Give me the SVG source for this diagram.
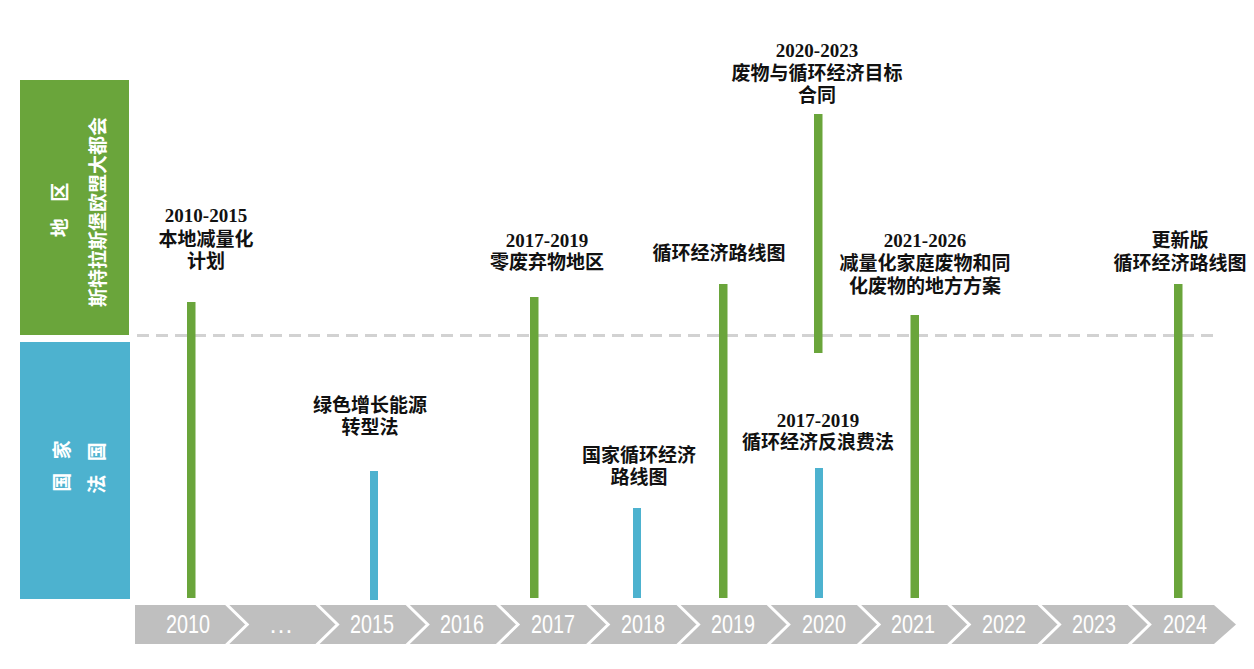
<svg xmlns="http://www.w3.org/2000/svg" width="1254" height="669" viewBox="0 0 1254 669">
<style>
.lbl{font-family:"Liberation Serif","Noto Sans CJK SC",serif;font-size:19px;font-weight:bold;text-anchor:middle;fill:#111}
.vt{font-family:"Noto Sans CJK SC","Liberation Sans",sans-serif;font-size:19px;font-weight:bold;text-anchor:middle;fill:#fff}
.yr{font-family:"Liberation Sans",Arial,sans-serif;font-size:25px;text-anchor:middle;fill:#fff}
.g{fill:#6aa53b}
.b{fill:#4db2cf}
.sep{fill:none;stroke:#fff;stroke-width:3}
</style>
<rect width="1254" height="669" fill="#fff"/>

<g id="cat-region">
<rect x="20" y="80" width="109" height="255" class="g"/>
<text class="vt" transform="translate(67,210) rotate(-90)" word-spacing="12">地 区</text>
<text class="vt" transform="translate(105,212) rotate(-90)">斯特拉斯堡欧盟大都会</text>
</g>
<g id="cat-national">
<rect x="20" y="342" width="110" height="257" class="b"/>
<text class="vt" transform="translate(69,466) rotate(-90)" word-spacing="9">国 家</text>
<text class="vt" transform="translate(104,468) rotate(-90)" word-spacing="9">法 国</text>
</g>

<g id="connectors">
<line x1="137" y1="335.5" x2="1220" y2="335.5" stroke="#d2d2d2" stroke-width="3" stroke-dasharray="12 7"/>
</g>

<g id="timeline">
<polygon points="135,605 1214,605 1236,624.5 1214,644 135,644" fill="#bfbfbf"/>
<polyline class="sep" points="225.2,603 247.2,624.5 225.2,646"/>
<polyline class="sep" points="315.5,603 337.5,624.5 315.5,646"/>
<polyline class="sep" points="405.7,603 427.7,624.5 405.7,646"/>
<polyline class="sep" points="496,603 518,624.5 496,646"/>
<polyline class="sep" points="586.2,603 608.2,624.5 586.2,646"/>
<polyline class="sep" points="676.5,603 698.5,624.5 676.5,646"/>
<polyline class="sep" points="766.7,603 788.7,624.5 766.7,646"/>
<polyline class="sep" points="857,603 879,624.5 857,646"/>
<polyline class="sep" points="947.2,603 969.2,624.5 947.2,646"/>
<polyline class="sep" points="1037.5,603 1059.5,624.5 1037.5,646"/>
<polyline class="sep" points="1127.7,603 1149.7,624.5 1127.7,646"/>
<text class="yr" x="188" y="633" textLength="44" lengthAdjust="spacingAndGlyphs">2010</text>
<text class="yr" x="281" y="633">…</text>
<text class="yr" x="372" y="633" textLength="44" lengthAdjust="spacingAndGlyphs">2015</text>
<text class="yr" x="462" y="633" textLength="44" lengthAdjust="spacingAndGlyphs">2016</text>
<text class="yr" x="553" y="633" textLength="44" lengthAdjust="spacingAndGlyphs">2017</text>
<text class="yr" x="643" y="633" textLength="44" lengthAdjust="spacingAndGlyphs">2018</text>
<text class="yr" x="733" y="633" textLength="44" lengthAdjust="spacingAndGlyphs">2019</text>
<text class="yr" x="824" y="633" textLength="44" lengthAdjust="spacingAndGlyphs">2020</text>
<text class="yr" x="913" y="633" textLength="44" lengthAdjust="spacingAndGlyphs">2021</text>
<text class="yr" x="1004" y="633" textLength="44" lengthAdjust="spacingAndGlyphs">2022</text>
<text class="yr" x="1094" y="633" textLength="44" lengthAdjust="spacingAndGlyphs">2023</text>
<text class="yr" x="1185" y="633" textLength="44" lengthAdjust="spacingAndGlyphs">2024</text>
</g>

<g id="ev-2010">
<rect x="187" y="302" width="8.5" height="296" class="g"/>
<text class="lbl" x="206" y="222">2010-2015</text>
<text class="lbl" x="206" y="246">本地减量化</text>
<text class="lbl" x="206" y="268">计划</text>
</g>
<g id="ev-2015">
<rect x="370" y="471" width="8" height="129" class="b"/>
<text class="lbl" x="370" y="412">绿色增长能源</text>
<text class="lbl" x="370" y="434">转型法</text>
</g>
<g id="ev-2017">
<rect x="530" y="297" width="8.5" height="301" class="g"/>
<text class="lbl" x="547" y="247">2017-2019</text>
<text class="lbl" x="547" y="269">零废弃物地区</text>
</g>
<g id="ev-2018">
<rect x="633" y="508" width="8" height="90" class="b"/>
<text class="lbl" x="639" y="462">国家循环经济</text>
<text class="lbl" x="639" y="484">路线图</text>
</g>
<g id="ev-2019">
<rect x="719" y="284" width="8.5" height="314" class="g"/>
<text class="lbl" x="719" y="260">循环经济路线图</text>
</g>
<g id="ev-2020-region">
<rect x="814" y="114" width="8.5" height="239" class="g"/>
<text class="lbl" x="817" y="57">2020-2023</text>
<text class="lbl" x="817" y="80">废物与循环经济目标</text>
<text class="lbl" x="817" y="102">合同</text>
</g>
<g id="ev-2020-national">
<rect x="815" y="468" width="8" height="130" class="b"/>
<text class="lbl" x="818" y="427">2017-2019</text>
<text class="lbl" x="818" y="449">循环经济反浪费法</text>
</g>
<g id="ev-2021">
<rect x="910.5" y="315" width="8.5" height="283" class="g"/>
<text class="lbl" x="925" y="247">2021-2026</text>
<text class="lbl" x="925" y="270">减量化家庭废物和同</text>
<text class="lbl" x="925" y="293">化废物的地方方案</text>
</g>
<g id="ev-2024">
<rect x="1174" y="284" width="8.5" height="314" class="g"/>
<text class="lbl" x="1180" y="247">更新版</text>
<text class="lbl" x="1180" y="270">循环经济路线图</text>
</g>
</svg>
